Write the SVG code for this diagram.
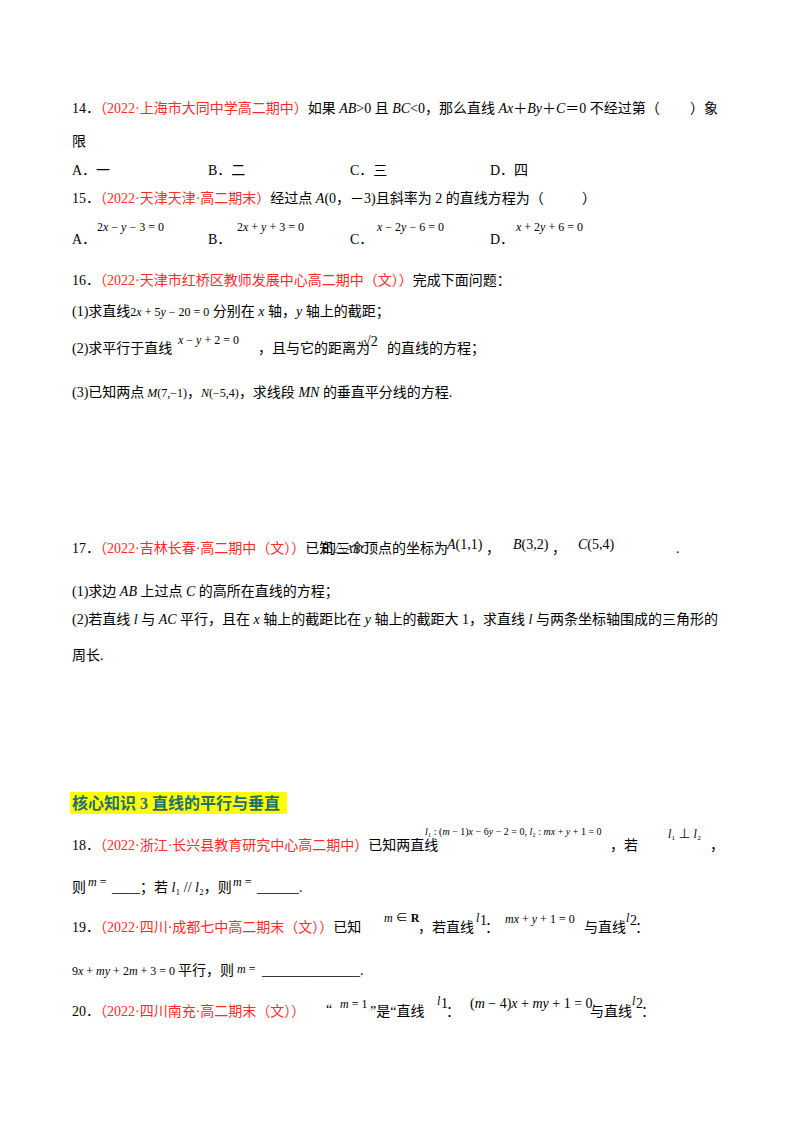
<svg xmlns="http://www.w3.org/2000/svg" width="800" height="1132" viewBox="0 0 800 1132">
<style>
text{font-family:"Liberation Serif","Noto Sans CJK SC",serif;font-size:14px;fill:#000}
.r{fill:#ff2a2a}
.i{font-style:italic}
.m{font-size:12px}
.s{font-size:10px}
.h{font-weight:bold;fill:#1f6f70;font-size:16px}
</style>
<rect width="800" height="1132" fill="#fff"/>
<text x="72" y="113">14．<tspan class="r">（2022·上海市大同中学高二期中）</tspan>如果 <tspan class="i">AB</tspan>&gt;0 且 <tspan class="i">BC</tspan>&lt;0，那么直线 <tspan class="i">Ax</tspan>＋<tspan class="i">By</tspan>＋<tspan class="i">C</tspan>＝0 不经过第（</text>
<text x="690" y="113">）象</text>
<text x="72" y="146">限</text>
<text x="72" y="175">A．一</text><text x="208" y="175">B．二</text><text x="350" y="175">C．三</text><text x="490" y="175">D．四</text>
<text x="72" y="203">15．<tspan class="r">（2022·天津天津·高二期末）</tspan>经过点 <tspan class="i">A</tspan>(0，－3)且斜率为 2 的直线方程为（</text>
<text x="582" y="203">）</text>
<text x="72" y="244">A．</text><text x="208" y="244">B．</text><text x="350" y="244">C．</text><text x="490" y="244">D．</text>
<text class="m" x="97" y="231">2<tspan class="i">x</tspan> − <tspan class="i">y</tspan> − 3 = 0</text>
<text class="m" x="237" y="231">2<tspan class="i">x</tspan> + <tspan class="i">y</tspan> + 3 = 0</text>
<text class="m" x="377" y="231"><tspan class="i">x</tspan> − 2<tspan class="i">y</tspan> − 6 = 0</text>
<text class="m" x="516" y="231"><tspan class="i">x</tspan> + 2<tspan class="i">y</tspan> + 6 = 0</text>
<text x="72" y="285">16．<tspan class="r">（2022·天津市红桥区教师发展中心高二期中（文））</tspan>完成下面问题：</text>
<text x="72" y="316">(1)求直线<tspan class="m">2<tspan class="i">x</tspan> + 5<tspan class="i">y</tspan> − 20 = 0</tspan> 分别在 <tspan class="i">x</tspan> 轴，<tspan class="i">y</tspan> 轴上的截距；</text>
<text x="72" y="353">(2)求平行于直线</text>
<text class="m" x="178" y="344"><tspan class="i">x</tspan> − <tspan class="i">y</tspan> + 2 = 0</text>
<text x="258" y="353">，且与它的距离为</text>
<text x="363" y="346" font-size="15">√2</text>
<text x="387" y="353">的直线的方程；</text>
<text x="72" y="397">(3)已知两点<tspan class="m"> <tspan class="i">M</tspan>(7,−1)</tspan>，<tspan class="m"><tspan class="i">N</tspan>(−5,4)</tspan>，求线段 <tspan class="i">MN</tspan> 的垂直平分线的方程.</text>
<text x="72" y="553">17．<tspan class="r">（2022·吉林长春·高二期中（文））</tspan>已知<tspan class="m">△<tspan class="i">ABC</tspan></tspan></text>
<text x="322" y="553">的三个顶点的坐标为</text>
<text x="447" y="549"><tspan class="i">A</tspan>(1,1)</text><text x="486" y="553">，</text>
<text x="513" y="549"><tspan class="i">B</tspan>(3,2)</text><text x="552" y="553">，</text>
<text x="578" y="549"><tspan class="i">C</tspan>(5,4)</text><text x="676" y="553">.</text>
<text x="72" y="596">(1)求边 <tspan class="i">AB</tspan> 上过点 <tspan class="i">C</tspan> 的高所在直线的方程；</text>
<text x="72" y="624">(2)若直线 <tspan class="i">l</tspan> 与 <tspan class="i">AC</tspan> 平行，且在 <tspan class="i">x</tspan> 轴上的截距比在 <tspan class="i">y</tspan> 轴上的截距大 1，求直线 <tspan class="i">l</tspan> 与两条坐标轴围成的三角形的</text>
<text x="72" y="660">周长.</text>
<rect x="70" y="792" width="217" height="22" fill="#ffff00"/>
<text class="h" x="72" y="809">核心知识 3  直线的平行与垂直</text>
<text x="72" y="850">18．<tspan class="r">（2022·浙江·长兴县教育研究中心高二期中）</tspan>已知两直线</text>
<text class="s" x="425" y="835"><tspan class="i">l</tspan>₁ : (<tspan class="i">m</tspan> − 1)<tspan class="i">x</tspan> − 6<tspan class="i">y</tspan> − 2 = 0, <tspan class="i">l</tspan>₂ : <tspan class="i">mx</tspan> + <tspan class="i">y</tspan> + 1 = 0</text>
<text x="610" y="850">，若</text>
<text class="m" x="668" y="838"><tspan class="i">l</tspan>₁ ⊥ <tspan class="i">l</tspan>₂</text>
<text x="710" y="850">，</text>
<text x="72" y="892">则</text><text class="m" x="88" y="886"><tspan class="i">m</tspan> =</text>
<text x="112" y="892">____；若 <tspan class="i">l</tspan>₁ // <tspan class="i">l</tspan>₂，则</text>
<text class="m" x="233" y="886"><tspan class="i">m</tspan> =</text>
<text x="257" y="892">______.</text>
<text x="72" y="932">19．<tspan class="r">（2022·四川·成都七中高二期末（文））</tspan>已知</text>
<text class="m" x="384" y="922"><tspan class="i">m</tspan> ∈ <tspan font-weight="bold">R</tspan></text>
<text x="418" y="932">，若直线</text>
<text class="m i" x="476" y="922">l</text><text font-size="8" x="480" y="925">1</text>
<text x="485" y="932">：</text>
<text class="m" x="505" y="923"><tspan class="i">mx</tspan> + <tspan class="i">y</tspan> + 1 = 0</text>
<text x="584" y="932">与直线</text>
<text class="m i" x="626" y="922">l</text><text font-size="8" x="630" y="925">2</text>
<text x="635" y="932">：</text>
<text class="m" x="72" y="975">9<tspan class="i">x</tspan> + <tspan class="i">my</tspan> + 2<tspan class="i">m</tspan> + 3 = 0</text>
<text x="178" y="975">平行，则</text>
<text class="m" x="237" y="973"><tspan class="i">m</tspan> =</text>
<text x="262" y="975">______________.</text>
<text x="72" y="1016">20．<tspan class="r">（2022·四川南充·高二期末（文））</tspan></text>
<text x="326" y="1014">“</text>
<text class="m" x="340" y="1008"><tspan class="i">m</tspan> = 1</text>
<text x="370" y="1016">”是“直线</text>
<text class="m i" x="437" y="1005">l</text><text font-size="8" x="441" y="1008">1</text>
<text x="446" y="1016">：</text>
<text x="470" y="1008">(<tspan class="i">m</tspan> − 4)<tspan class="i">x</tspan> + <tspan class="i">my</tspan> + 1 = 0</text>
<text x="590" y="1016">与直线</text>
<text class="m i" x="632" y="1005">l</text><text font-size="8" x="636" y="1008">2</text>
<text x="641" y="1016">：</text>
</svg>
